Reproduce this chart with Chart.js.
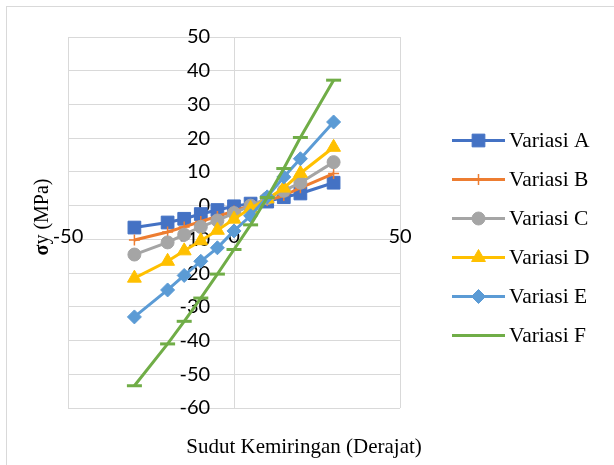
<!DOCTYPE html>
<html>
<head>
<meta charset="utf-8">
<script src="https://cdn.jsdelivr.net/npm/chart.js@4/dist/chart.umd.min.js"></script>
<style>
  html, body { margin: 0; padding: 0; background: #fff; overflow: hidden; }
  #wrap { position: relative; width: 614px; height: 465px; }
  #frame { position: absolute; left: 6px; top: 6px; width: 700px; height: 600px; border: 1px solid #d9d9d9; box-sizing: border-box; }
  canvas { position: absolute; left: 0; top: 0; }
</style>
</head>
<body>
<div id="wrap">
  <div id="frame"></div>
  <canvas id="c" width="614" height="465"></canvas>
</div>
<script>
// ---- data ----
const angles = [-30, -20, -15, -10, -5, 0, 5, 10, 15, 20, 30];
const seriesNames = ['Variasi A', 'Variasi B', 'Variasi C', 'Variasi D', 'Variasi E', 'Variasi F'];
const variasiA = [-6.5, -5.0, -3.9, -2.5, -1.3, -0.2, 0.6, 1.2, 2.5, 3.6, 6.8];
const variasiB = [-10.2, -7.8, -6.3, -4.7, -3.2, -1.6, 0.0, 1.5, 3.0, 5.3, 9.5];
const variasiC = [-14.5, -10.9, -8.6, -6.3, -4.4, -2.2, 0.0, 2.2, 4.4, 6.8, 12.9];
const variasiD = [-21.5, -16.5, -13.4, -10.4, -7.3, -4.0, -0.8, 2.0, 5.2, 9.6, 17.3];
const variasiE = [-33.0, -25.0, -20.7, -16.5, -12.5, -7.5, -3.0, 2.6, 8.5, 13.9, 24.8];
const variasiF = [-53.4, -41.0, -34.3, -27.4, -20.3, -13.0, -5.7, 2.4, 11.0, 20.2, 37.2];
const xTitle = 'Sudut Kemiringan (Derajat)';
const yTitleSymbol = 'σ';
const yTitleRest = 'y (MPa)';

const allSeries = [variasiA, variasiB, variasiC, variasiD, variasiE, variasiF];
const colors = ['#4472C4', '#ED7D31', '#A5A5A5', '#FFC000', '#5B9BD5', '#70AD47'];
const styles = [
  { pointStyle: 'rect', radius: 9, bw: 1 },
  { pointStyle: 'cross', radius: 5.5, bw: 1.5 },
  { pointStyle: 'circle', radius: 6.5, bw: 1 },
  { pointStyle: 'triangle', radius: 8, bw: 1 },
  { pointStyle: 'rectRot', radius: 7, bw: 1 },
  { pointStyle: 'line', radius: 7.5, bw: 3 }
];

const datasets = allSeries.map((vals, i) => ({
  label: seriesNames[i],
  data: angles.map((a, k) => ({ x: a, y: vals[k] })),
  borderColor: colors[i],
  backgroundColor: colors[i],
  borderWidth: 3,
  tension: 0,
  pointStyle: styles[i].pointStyle,
  pointRadius: styles[i].radius,
  pointHoverRadius: styles[i].radius,
  pointBackgroundColor: colors[i],
  pointBorderColor: colors[i],
  pointBorderWidth: styles[i].bw,
  order: 5 - i,
  clip: false
}));

const serif = '"Liberation Serif", "Times New Roman", serif';

const extras = {
  id: 'extras',
  afterDraw(chart) {
    const ctx = chart.ctx;
    ctx.save();
    // legend
    const x0 = 452, x1 = 505, top = 140.5, step = 39;
    chart.data.datasets.forEach((ds, i) => {
      const y = top + i * step;
      ctx.strokeStyle = ds.borderColor;
      ctx.lineWidth = 3;
      ctx.beginPath();
      ctx.moveTo(x0, y);
      ctx.lineTo(x1, y);
      ctx.stroke();
      ctx.fillStyle = ds.pointBackgroundColor;
      ctx.strokeStyle = ds.pointBorderColor;
      ctx.lineWidth = ds.pointBorderWidth;
      Chart.helpers.drawPoint(ctx, { pointStyle: ds.pointStyle, radius: ds.pointRadius, rotation: 0, borderWidth: ds.pointBorderWidth }, (x0 + x1) / 2, y);
      ctx.fillStyle = '#000';
      ctx.font = '21.5px ' + serif;
      ctx.textAlign = 'left';
      ctx.textBaseline = 'middle';
      ctx.fillText(ds.label, 509, y + 1);
    });
    // x title
    ctx.fillStyle = '#000';
    ctx.font = '21px ' + serif;
    ctx.textAlign = 'center';
    ctx.textBaseline = 'middle';
    ctx.fillText(xTitle, 304, 447);
    // y title (rotated, bold sigma)
    ctx.translate(43, 217);
    ctx.rotate(-Math.PI / 2);
    const fb = 'bold 20px ' + serif, fr = '20px ' + serif;
    ctx.font = fb; const w1 = ctx.measureText(yTitleSymbol).width;
    ctx.font = fr; const w2 = ctx.measureText(yTitleRest).width;
    const start = -(w1 + w2) / 2;
    ctx.textAlign = 'left';
    ctx.font = fb; ctx.fillText(yTitleSymbol, start, 0);
    ctx.font = fr; ctx.fillText(yTitleRest, start + w1, 0);
    ctx.restore();
  }
};

const tickFont = { family: 'Lato, "Open Sans", sans-serif', size: 20 };

new Chart(document.getElementById('c'), {
  type: 'line',
  data: { datasets },
  options: {
    responsive: false,
    animation: false,
    layout: { padding: { left: 68, top: 37, right: 214, bottom: 57 } },
    plugins: { legend: { display: false }, tooltip: { enabled: false } },
    scales: {
      x: {
        type: 'linear',
        position: { y: 0 },
        min: -50, max: 50,
        ticks: { stepSize: 50, padding: 19, font: tickFont, color: '#000', maxRotation: 0 },
        grid: { color: '#d9d9d9', lineWidth: 1, drawTicks: false },
        border: { color: '#d9d9d9', width: 1 },
        afterFit: (s) => { s.height = 0; }
      },
      y: {
        type: 'linear',
        // labels sit ~24px left of the vertical zero line
        position: { x: -7.2 },
        min: -60, max: 50,
        ticks: { stepSize: 10, padding: 0, font: tickFont, color: '#000' },
        grid: { color: '#d9d9d9', lineWidth: 1, drawTicks: false },
        border: { display: false },
        afterFit: (s) => { s.width = 0; }
      }
    }
  },
  plugins: [extras]
});
</script>
</body>
</html>
